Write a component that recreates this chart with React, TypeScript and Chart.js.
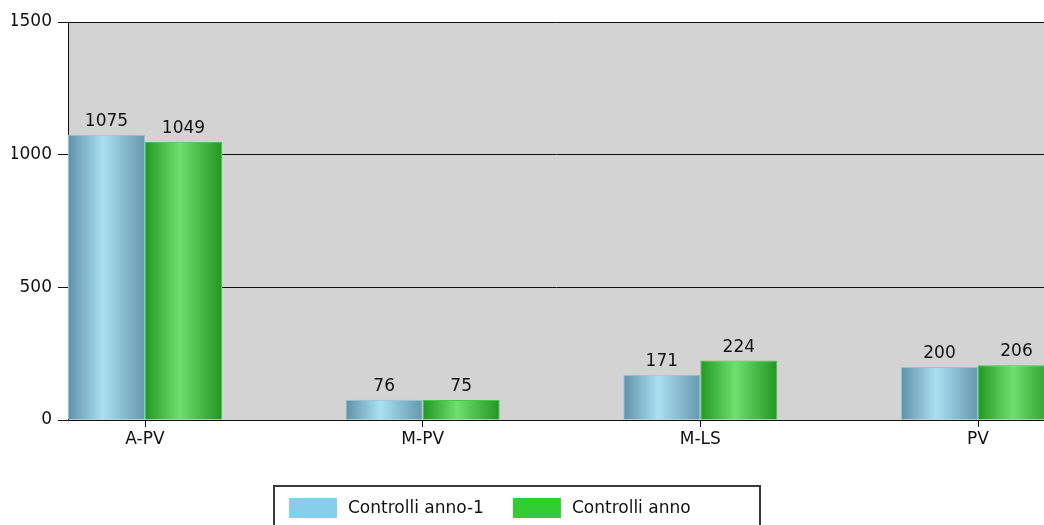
import { useEffect, useRef } from 'react';
import { Chart, registerables } from 'chart.js';

Chart.register(...registerables);

// ---- data ----
const categories = ['A-PV', 'M-PV', 'M-LS', 'PV'];
const seriesLabels = ['Controlli anno-1', 'Controlli anno'];
const valuesPrev = [1075, 76, 171, 200];
const valuesCurr = [1049, 75, 224, 206];
const yTicks = [0, 500, 1000, 1500];

// ---- style ----
const FONT = '"DejaVu Sans", sans-serif';
const FONT_SIZE = 17;
const legendColors = ['#87CEEB', '#32CD32'];
const gradStops = [
  ['#5e91a8', '#abdff2', '#6598ad'],
  ['#219821', '#6fdf6f', '#229522'],
];
const borderColors = ['#8dc4da', '#46c646'];
const CAT_SPACING_PX = 277.67;
const CAT_PCT = 154 / CAT_SPACING_PX;
const X_MIN = -77 / CAT_SPACING_PX;
const X_MAX = X_MIN + 976 / CAT_SPACING_PX;

function barFill(dsIndex: number) {
  return (ctx: any) => {
    const chart = ctx.chart;
    const xs = chart.scales && chart.scales.x;
    if (ctx.type !== 'data' || !xs || !chart.chartArea) return legendColors[dsIndex];
    const xv = ctx.raw && typeof ctx.raw.x === 'number' ? ctx.raw.x : ctx.dataIndex;
    const c = xs.getPixelForValue(xv);
    const spacing = xs.getPixelForValue(1) - xs.getPixelForValue(0);
    const w = (spacing * CAT_PCT) / 2;
    const left = c - w + dsIndex * w;
    const g = chart.ctx.createLinearGradient(left, 0, left + w, 0);
    const s = gradStops[dsIndex];
    g.addColorStop(0, s[0]);
    g.addColorStop(0.45, s[1]);
    g.addColorStop(1, s[2]);
    return g;
  };
}

const plotBackground = {
  id: 'plotBackground',
  beforeDraw(chart: any) {
    const { ctx, chartArea } = chart;
    if (!chartArea) return;
    ctx.save();
    ctx.fillStyle = '#d3d3d3';
    ctx.fillRect(chartArea.left, chartArea.top, chartArea.right - chartArea.left, chartArea.bottom - chartArea.top);
    ctx.restore();
  },
};

const valueLabels = {
  id: 'valueLabels',
  afterDatasetsDraw(chart: any) {
    const { ctx } = chart;
    ctx.save();
    ctx.font = `${FONT_SIZE}px ${FONT}`;
    ctx.fillStyle = '#111';
    ctx.textAlign = 'center';
    ctx.textBaseline = 'alphabetic';
    chart.data.datasets.forEach((ds: any, di: number) => {
      const meta = chart.getDatasetMeta(di);
      meta.data.forEach((el: any, i: number) => {
        const v = ds.data[i].y;
        ctx.fillText(String(v), el.x, el.y - 9);
      });
    });
    ctx.restore();
  },
};

const boxLegend = {
  id: 'boxLegend',
  afterDraw(chart: any) {
    const { ctx } = chart;
    ctx.save();
    ctx.font = `${FONT_SIZE}px ${FONT}`;
    ctx.strokeStyle = '#3a3a3a';
    ctx.lineWidth = 2;
    ctx.strokeRect(274, 486, 486, 60);
    let x = 289;
    const top = 498;
    chart.data.datasets.forEach((ds: any, i: number) => {
      ctx.fillStyle = legendColors[i];
      ctx.fillRect(x, top, 48, 20);
      ctx.fillStyle = '#111';
      ctx.textAlign = 'left';
      ctx.textBaseline = 'alphabetic';
      ctx.fillText(ds.label, x + 59, top + 15);
      x += 59 + ctx.measureText(ds.label).width + 29;
    });
    ctx.restore();
  },
};

export default function App() {
  const ref = useRef<HTMLCanvasElement | null>(null);

  useEffect(() => {
    if (!ref.current) return;
    const chart = new Chart(ref.current, {
      type: 'bar',
      data: {
        datasets: [
          {
            label: seriesLabels[0],
            data: valuesPrev.map((v, i) => ({ x: i, y: v })),
            backgroundColor: barFill(0),
            borderColor: borderColors[0],
            borderWidth: 1,
          },
          {
            label: seriesLabels[1],
            data: valuesCurr.map((v, i) => ({ x: i, y: v })),
            backgroundColor: barFill(1),
            borderColor: borderColors[1],
            borderWidth: 1,
          },
        ],
      },
      options: {
        animation: false,
        responsive: false,
        devicePixelRatio: 1,
        events: [],
        categoryPercentage: CAT_PCT,
        barPercentage: 1,
        layout: { padding: { left: 12, top: 22, right: 0, bottom: 75 } },
        plugins: {
          legend: { display: false },
          tooltip: { enabled: false },
          title: { display: false },
        },
        scales: {
          x: {
            type: 'linear',
            bounds: 'data',
            offset: false,
            min: X_MIN,
            max: X_MAX,
            afterBuildTicks: (scale: any) => {
              scale.ticks = categories.map((_, i) => ({ value: i }));
            },
            afterFit: (scale: any) => {
              scale.height = 30;
            },
            ticks: {
              callback: (v: any) => categories[v] ?? '',
              font: { family: FONT, size: FONT_SIZE },
              color: '#111',
              padding: 2,
              maxRotation: 0,
              autoSkip: false,
            },
            grid: {
              display: true,
              offset: false,
              drawOnChartArea: false,
              drawTicks: true,
              tickLength: 7,
              color: '#111',
            },
            border: { display: true, color: '#111', width: 1 },
          },
          y: {
            type: 'linear',
            min: 0,
            max: 1500,
            afterBuildTicks: (scale: any) => {
              scale.ticks = yTicks.map((v) => ({ value: v }));
            },
            afterFit: (scale: any) => {
              scale.width = 56;
            },
            ticks: {
              callback: (v: any) => String(v),
              font: { family: FONT, size: FONT_SIZE },
              color: '#111',
              padding: 6,
            },
            grid: {
              color: '#111',
              lineWidth: 1,
              drawTicks: true,
              tickLength: 10,
            },
            border: { display: true, color: '#111', width: 1 },
          },
        },
      } as any,
      plugins: [plotBackground, valueLabels, boxLegend],
    });
    return () => chart.destroy();
  }, []);

  return (
    <div
      style={{
        position: 'fixed',
        left: 0,
        top: 0,
        width: 1044,
        height: 525,
        overflow: 'hidden',
        background: '#fff',
      }}
    >
      <canvas ref={ref} width={1044} height={525} style={{ display: 'block', width: 1044, height: 525 }} />
    </div>
  );
}
